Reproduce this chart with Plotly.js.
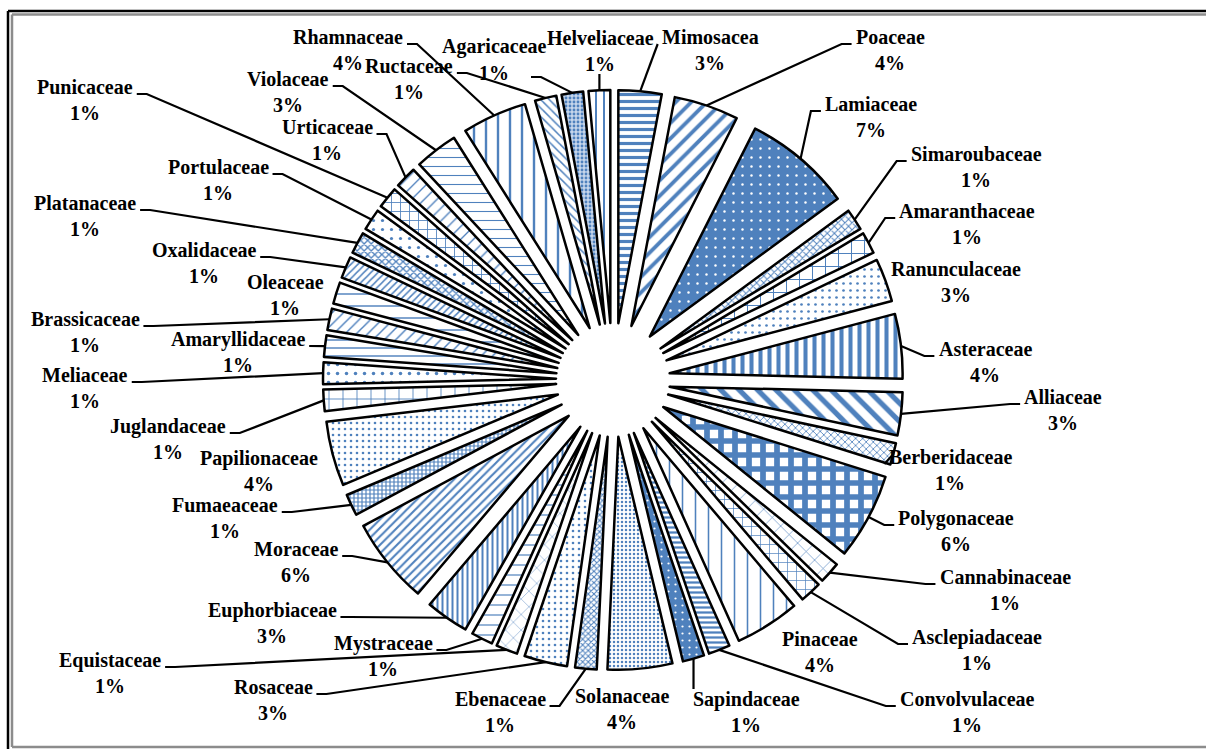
<!DOCTYPE html>
<html>
<head>
<meta charset="utf-8">
<script src="https://cdn.plot.ly/plotly-3.0.1.min.js"></script>
<style>
html,body{margin:0;padding:0;background:#ffffff;}
#chart{width:1206px;height:749px;}
</style>
</head>
<body>
<div id="chart"></div>
<script>
// ---------------- data (clockwise from 12 o'clock) ----------------
const families = ['Mimosacea','Poaceae','Lamiaceae','Simaroubaceae','Amaranthaceae','Ranunculaceae','Asteraceae','Alliaceae','Berberidaceae','Polygonaceae','Cannabinaceae','Asclepiadaceae','Pinaceae','Convolvulaceae','Sapindaceae','Solanaceae','Ebenaceae','Rosaceae','Equistaceae','Mystraceae','Euphorbiaceae','Moraceae','Fumaeaceae','Papilionaceae','Juglandaceae','Meliaceae','Amaryllidaceae','Brassicaceae','Oleaceae','Oxalidaceae','Platanaceae','Portulaceae','Punicaceae','Urticaceae','Violaceae','Rhamnaceae','Ructaceae','Agaricaceae','Helveliaceae'];
const counts = [2,3,5,1,1,2,3,2,1,4,1,1,3,1,1,3,1,2,1,1,2,4,1,3,1,1,1,1,1,1,1,1,1,1,2,3,1,1,1];

// ---------------- label layout (pixel centres of each label block) ----------------
const labelCx = [710,890,871,976,967,956,985,1063,950,956,1005,977,820,967,746,622,500,273,110,383,272,296,225,259,168,85,238,85,285,204,85,218,85,327,288,348,409,494,600];
const labelCy = [50,50,117,167,224,282,362,410,470,531,590,650,652,712,712,709,712,700,673,656,623,562,518,471,439,388,352,332,295,263,216,180,100,140,92,50,79,60,51];
const noLeader = ['Ranunculaceae','Pinaceae','Solanaceae','Papilionaceae','Oleaceae'];
const attachLow = ['Agaricaceae'];

// ---------------- styles ----------------
const BLUE = '#4F81BD', LIGHT = '#C6D6EC', WHITE = '#FFFFFF';
const patShape = ['-','/','.','x','+','.','|','\\','x','+','x','+','|','-','.','.','x','.','x','-','|','/','+','.','+','.','-','/','-','/','x','.','+','/','-','|','\\','.','|'];
const patSize  = [7,11,9,5,13,7,9,13,5,14,12,9,13,5,7,4,4,6,11,10,5,6,4,6,14,9,8,8,12,5,5,9,9,9,9,12,6,4,8];
const patSol   = [0.45,0.35,0.06,0.35,0.15,0.12,0.45,0.4,0.3,0.65,0.1,0.15,0.12,0.45,0.08,0.3,0.45,0.15,0.08,0.12,0.4,0.35,0.5,0.15,0.12,0.12,0.18,0.18,0.12,0.3,0.45,0.1,0.18,0.15,0.12,0.2,0.25,0.4,0.25];
const patFg = families.map(n => (n === 'Lamiaceae' || n === 'Sapindaceae') ? WHITE : BLUE);
const patBg = families.map(n => (n === 'Lamiaceae' || n === 'Sapindaceae') ? BLUE : (n === 'Agaricaceae' ? LIGHT : WHITE));

// ---------------- geometry constants ----------------
const W = 1206, H = 749;
const PIE_CX = 613, PIE_CY = 380, PIE_R = 290, APEX = 57;
const pull = APEX / (PIE_R - APEX);
const px2x = p => p / W, py2y = p => 1 - p / H;

const FONT_SIZE = 20, LINE = FONT_SIZE * 1.3;
const FONT_FAMILY = '"Liberation Serif", "Times New Roman", serif';
const ctx = document.createElement('canvas').getContext('2d');
ctx.font = 'bold ' + FONT_SIZE + 'px "Liberation Serif"';

const total = counts.reduce((a, b) => a + b, 0);
const pctText = counts.map(c => Math.round(c / total * 100) + '%');

const annotations = [], shapes = [];
function addText(txt, cx, cy) {
  annotations.push({
    x: px2x(cx), y: py2y(cy), xref: 'paper', yref: 'paper',
    xanchor: 'center', yanchor: 'middle', showarrow: false, align: 'center',
    borderpad: 0,
    text: '<b>' + txt + '</b>',
    font: {family: FONT_FAMILY, size: FONT_SIZE, color: '#000000'}
  });
}

let cum = 0;
families.forEach((name, i) => {
  const a = (cum + counts[i] / 2) / total * 2 * Math.PI;
  cum += counts[i];
  const sx = PIE_CX + PIE_R * Math.sin(a), sy = PIE_CY - PIE_R * Math.cos(a);
  const cx = labelCx[i], cy = labelCy[i];
  addText(name, cx, cy - LINE / 2);
  addText(pctText[i], cx, cy + LINE / 2);
  if (noLeader.indexOf(name) >= 0) return;
  const wName = ctx.measureText(name).width, wPct = ctx.measureText(pctText[i]).width;
  const w = Math.max(wName, wPct);
  let pts;
  if (Math.abs(sx - cx) < w / 2 + 6 && sy > cy + LINE) {
    pts = [[sx, cy + LINE - 3], [sx, sy]];
  } else if (Math.abs(sx - cx) < w / 2 + 6 && sy < cy - LINE) {
    pts = [[sx, cy - LINE + 3], [sx, sy]];
  } else {
    const dir = sx > cx ? 1 : -1;
    let x0, y0;
    if (attachLow.indexOf(name) >= 0) { x0 = cx + dir * (wPct / 2 + 22); y0 = cy + LINE / 2 + 4; }
    else { x0 = cx + dir * (w / 2 + 4); y0 = cy - 6; }
    if (dir * (sx - x0) > 18) pts = [[x0, y0], [x0 + dir * 10, y0], [sx, sy]];
    else pts = [[x0, y0], [sx, sy]];
  }
  shapes.push({
    type: 'path', xref: 'paper', yref: 'paper', layer: 'above',
    path: 'M ' + pts.map(p => px2x(p[0]) + ',' + py2y(p[1])).join(' L '),
    line: {color: '#000000', width: 2.2}
  });
});

// frame (double border)
const frame = [
  {x0: 8, y0: 11, x1: W + 5, y1: 11, c: '#000000', w: 2.5},
  {x0: 8, y0: 11, x1: 8, y1: H + 5, c: '#000000', w: 2.5},
  {x0: 12, y0: 14.5, x1: W + 5, y1: 14.5, c: '#8C8C8C', w: 2.5},
  {x0: 12, y0: 14.5, x1: 12, y1: 747, c: '#8C8C8C', w: 2.5},
  {x0: 12, y0: 747, x1: W + 5, y1: 747, c: '#8C8C8C', w: 2.5}
];
frame.forEach(f => shapes.push({
  type: 'line', xref: 'paper', yref: 'paper',
  x0: px2x(f.x0), y0: py2y(f.y0), x1: px2x(f.x1), y1: py2y(f.y1),
  line: {color: f.c, width: f.w}
}));

const trace = {
  type: 'pie',
  labels: families,
  values: counts,
  sort: false,
  direction: 'clockwise',
  rotation: 0,
  pull: pull,
  hole: 0,
  textinfo: 'none',
  hoverinfo: 'label+percent',
  showlegend: false,
  domain: {x: [px2x(PIE_CX - PIE_R), px2x(PIE_CX + PIE_R)], y: [py2y(PIE_CY + PIE_R), py2y(PIE_CY - PIE_R)]},
  marker: {
    colors: patBg,
    line: {color: '#000000', width: 2.5},
    pattern: {shape: patShape, size: patSize, solidity: patSol, fgcolor: patFg, bgcolor: patBg, fillmode: 'replace'}
  }
};

const layout = {
  width: W, height: H,
  margin: {l: 0, r: 0, t: 0, b: 0},
  paper_bgcolor: '#ffffff', plot_bgcolor: '#ffffff',
  showlegend: false,
  annotations: annotations,
  shapes: shapes
};

Plotly.newPlot('chart', [trace], layout, {displayModeBar: false, staticPlot: true});
</script>
</body>
</html>
